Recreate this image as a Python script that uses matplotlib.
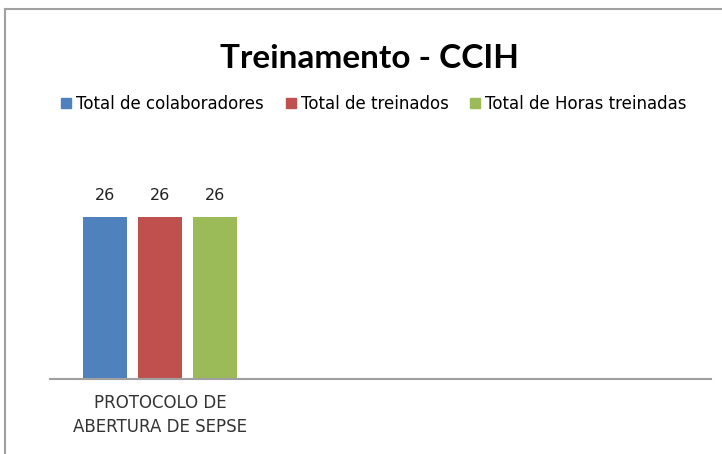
import matplotlib.pyplot as plt
from matplotlib.patches import Rectangle, Patch

# dados do grafico
categorias = ["PROTOCOLO DE\nABERTURA DE SEPSE"]
series = ["Total de colaboradores", "Total de treinados", "Total de Horas treinadas"]
valores = [[26], [26], [26]]
cores = ["#4f81bd", "#c0504d", "#9bbb59"]

plt.rcParams['font.family'] = ['DejaVu Sans']

fig = plt.figure(figsize=(7.22, 4.54), dpi=100)
W, H = 722, 454
ax = fig.add_axes([50 / W, (H - 379) / H, (711 - 50) / W, (379 - 120) / H])

largura = 0.2
desloc = [-0.25, 0, 0.25]
for i, nome in enumerate(series):
    xs = [j + desloc[i] for j in range(len(categorias))]
    bars = ax.bar(xs, valores[i], width=largura, color=cores[i], label=nome)
    for b, v in zip(bars, valores[i]):
        ax.text(b.get_x() + b.get_width() / 2, v + 2.2, str(v),
                ha='center', va='bottom', fontsize=11.5, color='#222222')

ax.set_xlim(-0.5, 2.5)
ax.set_ylim(0, 41.6)
ax.set_xticks(range(len(categorias)))
ax.set_xticklabels(categorias, fontsize=12, color='#333333', linespacing=1.4)
ax.tick_params(axis='x', length=0, pad=11)
ax.set_yticks([])
for s in ['top', 'right', 'left']:
    ax.spines[s].set_visible(False)
ax.spines['bottom'].set_color('#a0a0a0')
ax.spines['bottom'].set_linewidth(1.5)

fig.text(369 / W, 1 - 58 / H, "Treinamento - CCIH", ha='center', va='center',
         fontsize=24, fontweight='bold', color='#000000', family='Lato')

handles = [Patch(color=c) for c in cores]
fig.legend(handles, series, loc='center', bbox_to_anchor=(374 / W, 1 - 104 / H),
           ncol=3, frameon=False, fontsize=12, handlelength=0.6, handleheight=0.6,
           handletextpad=0.3, columnspacing=1.3)

# borda do grafico
fig.add_artist(Rectangle((5 / W, -0.1), 1.2, 1 - 9 / H + 0.1, transform=fig.transFigure,
                         fill=False, edgecolor='#a0a0a0', linewidth=1.5))

fig.savefig("out.png", dpi=100)
